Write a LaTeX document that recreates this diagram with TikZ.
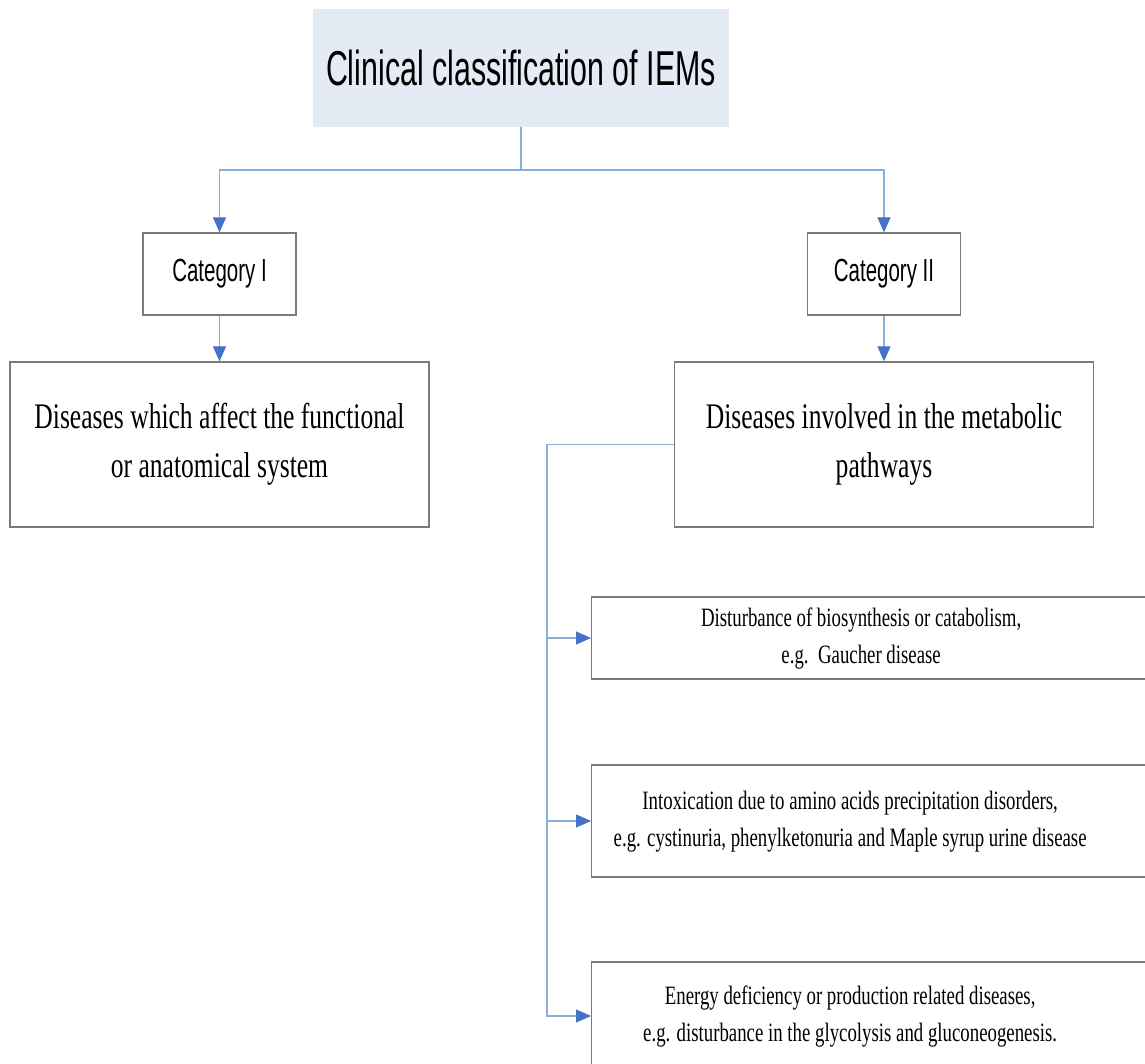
\documentclass[tikz,border=0pt]{standalone}
\usepackage{fontspec}
\setmainfont{Liberation Serif}
\newfontfamily\titlesans[FakeStretch=0.62]{Liberation Sans}
\newfontfamily\catsans[FakeStretch=0.64]{Liberation Sans}
\newfontfamily\narrowserif[FakeStretch=0.71]{Liberation Serif}
\usetikzlibrary{arrows.meta}
\definecolor{lineblue}{HTML}{8AAEDC}
\definecolor{tipblue}{HTML}{4472C4}
\definecolor{boxgray}{HTML}{7A7A7A}
\definecolor{titlefill}{HTML}{E5EBF5}
\tikzset{
  box/.style={draw=boxgray, line width=1.3pt, fill=white, inner sep=0pt},
  catbox/.style={box, minimum width=153pt, minimum height=82pt, font=\catsans\fontsize{32}{32}\selectfont},
  bigbox/.style={box, minimum width=419pt, minimum height=165pt, align=center, font=\narrowserif\fontsize{36}{49}\selectfont},
  subbox/.style={box, anchor=west, minimum width=560pt, font=\narrowserif\fontsize{26.5}{37}\selectfont},
  conn/.style={draw=lineblue, line width=1.1pt, -{Triangle[length=15pt,width=13pt,color=tipblue]}},
}
\begin{document}
\begin{tikzpicture}[x=1pt,y=-1pt]
\path[use as bounding box, fill=white] (0,0) rectangle (1145,1064);
\clip (0,0) rectangle (1145,1064);
\node[fill=titlefill, minimum width=416pt, minimum height=118pt, inner sep=0pt,
      font=\titlesans\fontsize{49}{49}\selectfont] (title) at (521,68) {\raisebox{-2pt}{Clinical classification of IEMs}};
\node[catbox] (cat1) at (219.5,274) {Category I};
\node[catbox] (cat2) at (884,274) {Category II};
\node[bigbox] (left) at (219.5,444.5) {Diseases which affect the functional\\or anatomical system};
\node[bigbox] (right) at (884,444.5) {Diseases involved in the metabolic\\pathways};
\node[subbox, minimum height=82pt] (s1) at (591,638)
  {\begin{tabular}{@{}c@{}}Disturbance of biosynthesis or catabolism,\\e.g.\ \ Gaucher disease\end{tabular}\rule{21pt}{0pt}};
\node[subbox, minimum height=112pt] (s2) at (591,821)
  {\begin{tabular}{@{}c@{}}Intoxication due to amino acids precipitation disorders,\\e.g. cystinuria, phenylketonuria and Maple syrup urine disease\end{tabular}\rule{43pt}{0pt}};
\node[subbox, minimum height=108pt] (s3) at (591,1016)
  {\begin{tabular}{@{}c@{}}Energy deficiency or production related diseases,\\e.g. disturbance in the glycolysis and gluconeogenesis.\end{tabular}\rule{43pt}{0pt}};
\coordinate (hbar) at (0,170);
\coordinate (vbar) at (547,0);
\draw[conn] (title.south) -- (title.south |- hbar) -| (cat1.north);
\draw[conn] (title.south) -- (title.south |- hbar) -| (cat2.north);
\draw[conn] (cat1.south) -- (left.north);
\draw[conn] (cat2.south) -- (right.north);
\draw[conn] (right.west) -- (right.west -| vbar) |- (s1.west);
\draw[conn] (right.west) -- (right.west -| vbar) |- (s2.west);
\draw[conn] (right.west) -- (right.west -| vbar) |- (s3.west);
\end{tikzpicture}
\end{document}
